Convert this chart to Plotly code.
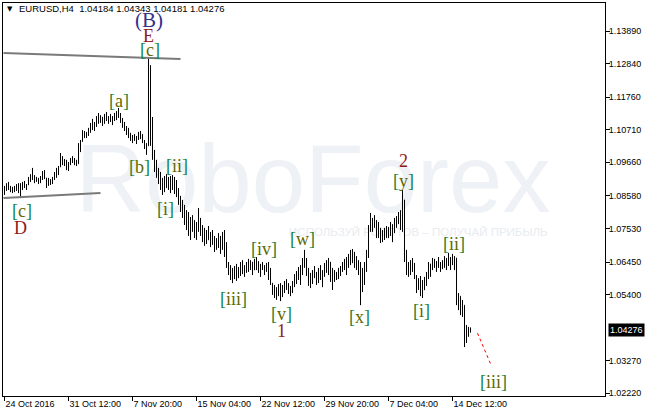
import plotly.graph_objects as go

# ---------------- data (EURUSD H4) ----------------
bar_index = list(range(234))

opens = [
    1.0883,1.0877,1.0893,1.0883,1.0877,1.0880,1.0883,1.0890,1.0877,1.0890,
    1.0896,1.0890,1.0893,1.0916,1.0922,1.0919,1.0912,1.0909,1.0906,1.0919,
    1.0932,1.0916,1.0896,1.0909,1.0903,1.0916,1.0928,1.0941,1.0951,1.0980,
    1.0974,1.0964,1.0954,1.0961,1.0974,1.0970,1.0967,1.0961,1.1019,1.1035,
    1.1061,1.1054,1.1061,1.1070,1.1086,1.1077,1.1090,1.1109,1.1102,1.1112,
    1.1102,1.1115,1.1106,1.1109,1.1102,1.1112,1.1122,1.1128,1.1118,1.1099,
    1.1086,1.1073,1.1061,1.1051,1.1041,1.1048,1.1044,1.1048,1.1057,1.1048,
    1.1035,1.1015,1.1019,1.1183,1.1038,1.0990,1.0948,1.0925,1.0903,1.0890,
    1.0877,1.0909,1.0893,1.0903,1.0909,1.0890,1.0877,1.0864,1.0838,1.0819,
    1.0796,1.0780,1.0761,1.0742,1.0780,1.0755,1.0735,1.0764,1.0755,1.0735,
    1.0722,1.0742,1.0716,1.0729,1.0706,1.0716,1.0690,1.0709,1.0700,1.0722,
    1.0700,1.0668,1.0635,1.0613,1.0619,1.0593,1.0626,1.0603,1.0619,1.0635,
    1.0613,1.0626,1.0639,1.0626,1.0645,1.0619,1.0648,1.0635,1.0619,1.0626,
    1.0632,1.0619,1.0632,1.0593,1.0577,1.0555,1.0545,1.0558,1.0548,1.0564,
    1.0555,1.0574,1.0561,1.0548,1.0564,1.0581,1.0600,1.0610,1.0593,1.0626,
    1.0651,1.0635,1.0613,1.0574,1.0600,1.0613,1.0600,1.0587,1.0619,1.0597,
    1.0613,1.0635,1.0619,1.0645,1.0587,1.0603,1.0593,1.0606,1.0619,1.0626,
    1.0639,1.0626,1.0658,1.0664,1.0642,1.0677,1.0635,1.0645,1.0619,1.0587,
    1.0613,1.0635,1.0677,1.0755,1.0780,1.0774,1.0764,1.0729,1.0748,1.0716,
    1.0738,1.0726,1.0748,1.0732,1.0761,1.0755,1.0780,1.0787,1.0796,1.0806,
    1.0845,1.0658,1.0619,1.0632,1.0639,1.0619,1.0597,1.0571,1.0561,1.0581,
    1.0555,1.0587,1.0603,1.0639,1.0626,1.0645,1.0632,1.0642,1.0635,1.0639,
    1.0645,1.0632,1.0651,1.0639,1.0658,1.0645,1.0658,1.0523,1.0535,1.0484,
    1.0506,1.0394,1.0433,1.04184,
]
highs = [
    1.0890,1.0899,1.0903,1.0890,1.0887,1.0890,1.0896,1.0899,1.0899,1.0903,
    1.0906,1.0896,1.0919,1.0928,1.0948,1.0925,1.0919,1.0916,1.0922,1.0938,
    1.0941,1.0916,1.0916,1.0912,1.0919,1.0935,1.0948,1.0954,1.0996,1.0986,
    1.0977,1.0974,1.0967,1.0980,1.0986,1.0980,1.0974,1.1028,1.1038,1.1070,
    1.1067,1.1064,1.1077,1.1093,1.1106,1.1096,1.1115,1.1125,1.1118,1.1112,
    1.1122,1.1128,1.1115,1.1122,1.1115,1.1125,1.1131,1.1141,1.1125,1.1109,
    1.1096,1.1083,1.1077,1.1061,1.1054,1.1057,1.1051,1.1064,1.1067,1.1057,
    1.1038,1.1028,1.1302,1.1279,1.1112,1.1006,1.0974,1.0948,1.0935,1.0916,
    1.0922,1.0928,1.0919,1.0922,1.0925,1.0919,1.0909,1.0883,1.0858,1.0845,
    1.0829,1.0812,1.0806,1.0790,1.0796,1.0780,1.0774,1.0819,1.0787,1.0764,
    1.0755,1.0748,1.0761,1.0742,1.0748,1.0729,1.0722,1.0738,1.0729,1.0742,
    1.0748,1.0709,1.0645,1.0635,1.0626,1.0632,1.0639,1.0629,1.0645,1.0651,
    1.0635,1.0645,1.0655,1.0651,1.0645,1.0655,1.0661,1.0648,1.0639,1.0645,
    1.0635,1.0642,1.0645,1.0626,1.0577,1.0571,1.0564,1.0574,1.0577,1.0571,
    1.0584,1.0590,1.0577,1.0568,1.0584,1.0606,1.0616,1.0629,1.0635,1.0658,
    1.0684,1.0658,1.0626,1.0610,1.0619,1.0632,1.0613,1.0626,1.0635,1.0619,
    1.0642,1.0651,1.0658,1.0645,1.0626,1.0619,1.0613,1.0626,1.0632,1.0645,
    1.0655,1.0661,1.0671,1.0684,1.0687,1.0677,1.0664,1.0651,1.0645,1.0626,
    1.0645,1.0684,1.0764,1.0803,1.0787,1.0796,1.0780,1.0774,1.0755,1.0748,
    1.0755,1.0761,1.0758,1.0774,1.0767,1.0787,1.0793,1.0806,1.0812,1.0877,
    1.0845,1.0684,1.0645,1.0651,1.0658,1.0642,1.0603,1.0593,1.0600,1.0587,
    1.0597,1.0613,1.0645,1.0639,1.0658,1.0655,1.0648,1.0661,1.0645,1.0651,
    1.0664,1.0658,1.0674,1.0661,1.0671,1.0664,1.0658,1.0545,1.0535,1.0523,
    1.0506,1.0442,1.0436,1.04343,
]
lows = [
    1.0861,1.0874,1.0877,1.0870,1.0867,1.0870,1.0874,1.0867,1.0851,1.0877,
    1.0883,1.0877,1.0893,1.0903,1.0909,1.0899,1.0903,1.0896,1.0899,1.0909,
    1.0912,1.0883,1.0890,1.0893,1.0896,1.0909,1.0916,1.0925,1.0951,1.0957,
    1.0954,1.0941,1.0938,1.0957,1.0964,1.0957,1.0954,1.0961,1.0999,1.1032,
    1.1044,1.1044,1.1051,1.1061,1.1070,1.1067,1.1080,1.1090,1.1093,1.1083,
    1.1090,1.1099,1.1090,1.1096,1.1086,1.1099,1.1102,1.1109,1.1093,1.1077,
    1.1067,1.1054,1.1044,1.1035,1.1028,1.1035,1.1025,1.1038,1.1041,1.1028,
    1.1009,1.0990,1.1019,1.1019,1.0974,1.0935,1.0916,1.0896,1.0877,1.0861,
    1.0870,1.0883,1.0877,1.0867,1.0877,1.0864,1.0854,1.0829,1.0806,1.0787,
    1.0764,1.0748,1.0729,1.0716,1.0742,1.0722,1.0716,1.0742,1.0729,1.0709,
    1.0697,1.0703,1.0716,1.0693,1.0700,1.0677,1.0684,1.0690,1.0671,1.0684,
    1.0661,1.0626,1.0603,1.0587,1.0577,1.0590,1.0584,1.0593,1.0600,1.0606,
    1.0597,1.0610,1.0613,1.0619,1.0603,1.0619,1.0619,1.0610,1.0597,1.0619,
    1.0603,1.0613,1.0587,1.0571,1.0539,1.0529,1.0523,1.0535,1.0519,1.0532,
    1.0545,1.0555,1.0542,1.0535,1.0545,1.0564,1.0574,1.0587,1.0571,1.0603,
    1.0626,1.0600,1.0568,1.0561,1.0574,1.0593,1.0571,1.0577,1.0587,1.0564,
    1.0597,1.0610,1.0603,1.0581,1.0555,1.0581,1.0587,1.0590,1.0600,1.0613,
    1.0619,1.0603,1.0626,1.0635,1.0642,1.0626,1.0619,1.0603,1.0506,1.0548,
    1.0571,1.0613,1.0658,1.0742,1.0742,1.0755,1.0722,1.0722,1.0706,1.0709,
    1.0716,1.0722,1.0722,1.0729,1.0709,1.0738,1.0755,1.0767,1.0748,1.0742,
    1.0645,1.0603,1.0597,1.0603,1.0613,1.0590,1.0545,1.0555,1.0535,1.0529,
    1.0555,1.0568,1.0590,1.0597,1.0619,1.0626,1.0613,1.0626,1.0613,1.0622,
    1.0626,1.0619,1.0632,1.0619,1.0635,1.0619,1.0506,1.0490,1.0474,1.0468,
    1.0371,1.0384,1.0404,1.04181,
]
closes = [
    1.0877,1.0893,1.0883,1.0877,1.0880,1.0883,1.0890,1.0877,1.0890,1.0896,
    1.0890,1.0893,1.0916,1.0922,1.0919,1.0912,1.0909,1.0906,1.0919,1.0932,
    1.0916,1.0896,1.0909,1.0903,1.0916,1.0928,1.0941,1.0951,1.0980,1.0974,
    1.0964,1.0954,1.0961,1.0974,1.0970,1.0967,1.0961,1.1019,1.1035,1.1061,
    1.1054,1.1061,1.1070,1.1086,1.1077,1.1090,1.1109,1.1102,1.1112,1.1102,
    1.1115,1.1106,1.1109,1.1102,1.1112,1.1122,1.1128,1.1118,1.1099,1.1086,
    1.1073,1.1061,1.1051,1.1041,1.1048,1.1044,1.1048,1.1057,1.1048,1.1035,
    1.1015,1.1019,1.1183,1.1038,1.0990,1.0948,1.0925,1.0903,1.0890,1.0877,
    1.0909,1.0893,1.0903,1.0909,1.0890,1.0877,1.0864,1.0838,1.0819,1.0796,
    1.0780,1.0761,1.0742,1.0780,1.0755,1.0735,1.0764,1.0755,1.0735,1.0722,
    1.0742,1.0716,1.0729,1.0706,1.0716,1.0690,1.0709,1.0700,1.0722,1.0700,
    1.0668,1.0635,1.0613,1.0619,1.0593,1.0626,1.0603,1.0619,1.0635,1.0613,
    1.0626,1.0639,1.0626,1.0645,1.0619,1.0648,1.0635,1.0619,1.0626,1.0632,
    1.0619,1.0632,1.0593,1.0577,1.0555,1.0545,1.0558,1.0548,1.0564,1.0555,
    1.0574,1.0561,1.0548,1.0564,1.0581,1.0600,1.0610,1.0593,1.0626,1.0651,
    1.0635,1.0613,1.0574,1.0600,1.0613,1.0600,1.0587,1.0619,1.0597,1.0613,
    1.0635,1.0619,1.0645,1.0587,1.0603,1.0593,1.0606,1.0619,1.0626,1.0639,
    1.0626,1.0658,1.0664,1.0642,1.0677,1.0635,1.0645,1.0619,1.0587,1.0613,
    1.0635,1.0677,1.0755,1.0780,1.0774,1.0764,1.0729,1.0748,1.0716,1.0738,
    1.0726,1.0748,1.0732,1.0761,1.0755,1.0780,1.0787,1.0796,1.0806,1.0845,
    1.0658,1.0619,1.0632,1.0639,1.0619,1.0597,1.0571,1.0561,1.0581,1.0555,
    1.0587,1.0603,1.0639,1.0626,1.0645,1.0632,1.0642,1.0635,1.0639,1.0645,
    1.0632,1.0651,1.0639,1.0658,1.0645,1.0658,1.0523,1.0535,1.0484,1.0506,
    1.0394,1.0433,1.0426,1.04276,
]

x_tick_index = [0, 32, 64, 96, 128, 160, 192, 224]
x_tick_labels = ["24 Oct 2016", "31 Oct 12:00", "7 Nov 20:00", "15 Nov 04:00",
                 "22 Nov 12:00", "29 Nov 20:00", "7 Dec 04:00", "14 Dec 12:00"]
y_tick_values = [1.13890, 1.12840, 1.11760, 1.10710, 1.09660, 1.08580,
                 1.07530, 1.06450, 1.05400, 1.03270, 1.02220]
last_price = 1.04276

# trend lines (bar index, price)
upper_line_x = [-0.5, 88]
upper_line_y = [1.1318, 1.1299]
lower_line_x = [-0.5, 48]
lower_line_y = [1.0851, 1.0867]
forecast_x = [236.5, 243.5]
forecast_y = [1.0416, 1.0310]

# wave labels
green_labels = ["c", "a", "c", "b", "ii", "i", "iii", "iv", "v", "w", "x", "y", "i", "ii", "iii"]
green_x = [72.5, 57, 8.5, 67.5, 86, 80.5, 114.5, 129.5, 138.5, 149, 177.5, 199.5, 208.5, 224.5, 244.5]
green_y = [1.1328, 1.1164, 1.0809, 1.0951, 1.0954, 1.0816, 1.0526, 1.0687, 1.0478, 1.0719,
           1.0468, 1.0906, 1.0487, 1.0703, 1.0258]
red_labels = ["E", "D", "1", "2"]
red_x = [72, 8, 138.5, 199.5]
red_y = [1.1373, 1.0755, 1.0423, 1.0970]
blue_labels = ["(B)"]
blue_x = [72]
blue_y = [1.1424]

watermark_text = "RoboForex"
tagline_text = "ИСПОЛЬЗУЙ РОБОТОВ – ПОЛУЧАЙ ПРИБЫЛЬ"

# ---------------- figure ----------------
fig = go.Figure()

fig.add_trace(go.Ohlc(
    x=bar_index, open=opens, high=highs, low=lows, close=closes,
    increasing=dict(line=dict(color="black", width=1)),
    decreasing=dict(line=dict(color="black", width=1)),
    tickwidth=0.2, hoverinfo="skip", showlegend=False,
))

for lx, ly in [(upper_line_x, upper_line_y), (lower_line_x, lower_line_y)]:
    fig.add_trace(go.Scatter(x=lx, y=ly, mode="lines",
                             line=dict(color="#7a7a7a", width=2),
                             hoverinfo="skip", showlegend=False))
fig.add_trace(go.Scatter(x=forecast_x, y=forecast_y, mode="lines",
                         line=dict(color="red", width=1, dash="dot"),
                         hoverinfo="skip", showlegend=False))

SERIF = "Liberation Serif, Times New Roman, serif"
BR = "#17813a"
LT = "#5f6a00"
annotations = []
for t, x, y in zip(green_labels, green_x, green_y):
    txt = (f"<span style='color:{BR}'>[</span><span style='color:{LT}'>{t}</span>"
           f"<span style='color:{BR}'>]</span>")
    annotations.append(dict(x=x, y=y, xref="x", yref="y", text=txt, showarrow=False,
                            font=dict(family=SERIF, size=18, color=LT)))
for t, x, y in zip(red_labels, red_x, red_y):
    annotations.append(dict(x=x, y=y, xref="x", yref="y", text=t, showarrow=False,
                            font=dict(family=SERIF, size=18, color="#8e1a1a")))
for t, x, y in zip(blue_labels, blue_x, blue_y):
    annotations.append(dict(x=x, y=y, xref="x", yref="y", text=t, showarrow=False,
                            font=dict(family=SERIF, size=21, color="#35308a")))

# header
annotations.append(dict(x=0.004, y=0.985, xref="paper", yref="paper", xanchor="left",
                        yanchor="middle", text="▼", showarrow=False,
                        font=dict(family="DejaVu Sans", size=7, color="black")))
annotations.append(dict(x=0.024, y=0.985, xref="paper", yref="paper", xanchor="left",
                        yanchor="middle",
                        text=f"EURUSD,H4  {opens[-1]:.5f} {highs[-1]:.5f} {lows[-1]:.5f} {closes[-1]:.5f}",
                        showarrow=False,
                        font=dict(family="Liberation Sans, Arial", size=9.5, color="black")))

# last price tag
annotations.append(dict(x=1.0, y=last_price, xref="paper", yref="y", xanchor="left",
                        yanchor="middle", xshift=3, text=f"{last_price:.5f}", showarrow=False,
                        bgcolor="black", borderpad=1,
                        font=dict(family="Liberation Sans, Arial", size=9, color="white")))

# watermark shapes (drawn below the data)
shapes = [
    dict(type="rect", xref="paper", yref="paper", x0=0.30, x1=0.73, y0=0.476, y1=0.676,
         line=dict(width=0), fillcolor="rgba(0,0,0,0)", layer="below",
         label=dict(text=watermark_text, textposition="middle center",
                    font=dict(family="Liberation Sans, Arial", size=96, color="#eef1f5"))),
    dict(type="rect", xref="paper", yref="paper", x0=0.59, x1=0.79, y0=0.405, y1=0.435,
         line=dict(width=0), fillcolor="rgba(0,0,0,0)", layer="below",
         label=dict(text=tagline_text, textposition="middle center",
                    font=dict(family="Liberation Sans, Arial", size=11.5, color="#e8ebf0"))),
]

fig.update_layout(
    width=646, height=414,
    margin=dict(l=3, r=41, t=3, b=18),
    paper_bgcolor="white", plot_bgcolor="white",
    annotations=annotations, shapes=shapes,
    showlegend=False,
    font=dict(family="Liberation Sans, Arial", color="black"),
)
fig.update_xaxes(
    range=[-0.75, 300.25], rangeslider=dict(visible=False),
    tickmode="array", tickvals=x_tick_index, ticktext=x_tick_labels,
    ticks="outside", ticklen=4, tickcolor="black",
    ticklabelposition="outside right", ticklabelstandoff=-1,
    tickfont=dict(size=9, family="Liberation Sans, Arial"),
    showgrid=False, zeroline=False,
    showline=True, linecolor="black", linewidth=1, mirror=True,
)
fig.update_yaxes(
    range=[1.02134, 1.14792], side="right",
    tickmode="array", tickvals=y_tick_values,
    ticktext=[f"{v:.5f}" for v in y_tick_values],
    ticks="outside", ticklen=4, tickcolor="black", ticklabelstandoff=-3,
    tickfont=dict(size=9, family="Liberation Sans, Arial"),
    showgrid=False, zeroline=False,
    showline=True, linecolor="black", linewidth=1, mirror=True,
)

fig.write_html("out.html", config={"displayModeBar": False},
               post_script="document.body.style.margin='0px';document.body.style.padding='0px';")
